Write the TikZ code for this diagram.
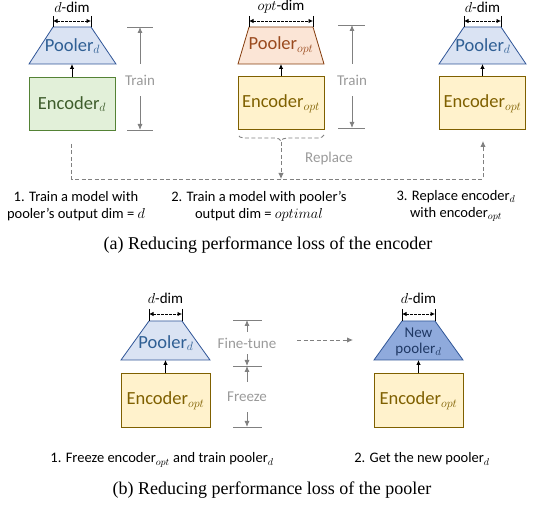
\documentclass[tikz,border=0pt]{standalone}
\usepackage{fontspec}
\setmainfont{Carlito}
\newfontfamily\capfont{Liberation Serif}
\usetikzlibrary{arrows.meta,decorations.pathreplacing,calc}
\definecolor{bfill}{HTML}{DAE3F3}
\definecolor{bdraw}{HTML}{2F5597}
\definecolor{btext}{HTML}{2F5F94}
\definecolor{gfill}{HTML}{E2F0D9}
\definecolor{gdraw}{HTML}{548235}
\definecolor{gtext}{HTML}{3D5C2B}
\definecolor{ofill}{HTML}{FBE5D6}
\definecolor{odraw}{HTML}{843C0C}
\definecolor{otext}{HTML}{9A4A1E}
\definecolor{yfill}{HTML}{FFF2CC}
\definecolor{ydraw}{HTML}{7F6000}
\definecolor{ytext}{HTML}{7F6000}
\definecolor{nfill}{HTML}{8FAADC}
\definecolor{ntext}{HTML}{1F3864}
\definecolor{gline}{HTML}{808080}
\definecolor{gtxt}{HTML}{9A9A9A}
\begin{document}
\begin{tikzpicture}[x=1pt,y=-1pt,
  box/.style={line width=1pt,minimum width=86pt,minimum height=53pt,inner sep=0pt,font=\fontsize{18.5}{20}\selectfont},
  encg/.style={box,draw=gdraw,fill=gfill,text=gtext},
  ency/.style={box,draw=ydraw,fill=yfill,text=ytext},
  poolb/.style={draw=bdraw,fill=bfill,line width=0.8pt},
  poolo/.style={draw=odraw,fill=ofill,line width=0.8pt},
  pooln/.style={draw=bdraw,fill=nfill,line width=0.8pt},
  ptxt/.style={font=\fontsize{18.5}{20}\selectfont,inner sep=0pt},
  uparr/.style={-{Latex[length=5pt,width=4.5pt]},line width=0.8pt,black},
  dimtick/.style={line width=0.7pt,black},
  dimarr/.style={{Latex[length=4.5pt,width=4.5pt]}-{Latex[length=4.5pt,width=4.5pt]},dash pattern=on 2.5pt off 1.5pt,line width=0.8pt,black},
  dimlbl/.style={font=\fontsize{15}{16}\selectfont,inner sep=0pt},
  gtick/.style={gline,line width=0.8pt},
  garr/.style={gline,line width=0.8pt,-{Latex[length=6pt,width=5pt]}},
  glbl/.style={text=gtxt,font=\fontsize{15}{16}\selectfont,inner sep=0pt},
  gdash/.style={gline,line width=0.9pt,dash pattern=on 4pt off 2.5pt},
  desc/.style={font=\fontsize{14.5}{17}\selectfont,align=center,inner sep=0pt},
  capstyle/.style={font=\capfont\fontsize{18}{20}\selectfont,inner sep=0pt}
]
\useasboundingbox (0,0) rectangle (547,510);

% ---------- Panel a1 ----------
\node[encg] (e1) at (72,104) {Encoder$_d$};
\draw[poolb] (53,27) -- (91,27) -- (116,64) -- (29,64) -- cycle;
\coordinate (p1b) at (72,64);
\node[ptxt,text=btext] (p1) at (72.5,46) {Pooler$_d$};
\draw[uparr] (e1.north) -- (p1b);
\coordinate (d1l) at (53,21); \coordinate (d1r) at (91,21);
\draw[dimtick] (53,16) -- (53,27) (91,16) -- (91,27);
\draw[dimarr] (d1l) -- (d1r);
\node[dimlbl] (l1) at (72,7) {$d$-dim};
% Train scale 1
\coordinate (t1a) at (140,27); \coordinate (t1b) at (140,130);
\draw[gtick] (127,27) -- (153,27) (127,130) -- (153,130);
\node[glbl] (tr1) at (140,80) {Train};
\draw[garr] ($(tr1.north)+(0,-11)$) -- (t1a);
\draw[garr] ($(tr1.south)+(0,11)$) -- (t1b);

% ---------- Panel a2 ----------
\node[ency] (e2) at (281,103.5) {Encoder$_{opt}$};
\draw[poolo] (249,27) -- (313,27) -- (324,64) -- (238,64) -- cycle;
\coordinate (p2b) at (281,64);
\node[ptxt,text=otext] (p2) at (281,46) {Pooler$_{opt}$};
\draw[uparr] (e2.north) -- (p2b);
\coordinate (d2l) at (249,21); \coordinate (d2r) at (313,21);
\draw[dimtick] (249,16) -- (249,27) (313,16) -- (313,27);
\draw[dimarr] (d2l) -- (d2r);
\node[dimlbl] (l2) at (281,7) {$opt$-dim};
% Train scale 2
\coordinate (t2a) at (352,25); \coordinate (t2b) at (352,128);
\draw[gtick] (338,25) -- (365,25) (338,128) -- (365,128);
\node[glbl] (tr2) at (352,80) {Train};
\draw[garr] ($(tr2.north)+(0,-11)$) -- (t2a);
\draw[garr] ($(tr2.south)+(0,11)$) -- (t2b);
% brace + replace
\draw[gdash,decorate,decoration={brace,amplitude=6pt}] (324,135) -- (238,135);
\coordinate (br) at (281,142);
\coordinate (hm) at (281,179);
\draw[gdash,-{Latex[length=6pt,width=5.5pt]}] (br) -- (hm);
\node[glbl] (rep) at (329,159) {Replace};

% ---------- Panel a3 ----------
\node[ency] (e3) at (482.5,103.5) {Encoder$_{opt}$};
\draw[poolb] (464,27) -- (501,27) -- (526,64) -- (439,64) -- cycle;
\coordinate (p3b) at (482.5,64);
\node[ptxt,text=btext] (p3) at (483,46) {Pooler$_d$};
\draw[uparr] (e3.north) -- (p3b);
\coordinate (d3l) at (464,21); \coordinate (d3r) at (501,21);
\draw[dimtick] (464,16) -- (464,27) (501,16) -- (501,27);
\draw[dimarr] (d3l) -- (d3r);
\node[dimlbl] (l3) at (482.5,7) {$d$-dim};

% dashed connector a1 -> a3
\coordinate (c1) at (71,144);
\coordinate (c3) at (483,141);
\draw[gdash,-{Latex[length=6pt,width=5.5pt]}] (c1) -- (71,179) -- (483,179) -- (c3);

% descriptions
\node[desc] (n1) at (76,206) {1. Train a model with\\pooler’s output dim = $d$};
\node[desc] (n2) at (259,206) {2. Train a model with pooler’s\\output dim = $optimal$};
\node[desc] (n3) at (456,206) {3. Replace encoder$_d$\\with encoder$_{opt}$};
\node[capstyle] (ca) at (268,245) {(a) Reducing performance loss of the encoder};

% ---------- Panel b1 ----------
\node[ency,minimum width=89pt,minimum height=54pt] (e4) at (165.5,401) {Encoder$_{opt}$};
\draw[poolb] (149,321) -- (182,321) -- (210,360) -- (121,360) -- cycle;
\coordinate (p4b) at (165.5,360);
\node[ptxt,text=btext] (p4) at (166,343) {Pooler$_d$};
\draw[uparr] (e4.north) -- (p4b);
\coordinate (d4l) at (149,314); \coordinate (d4r) at (182,314);
\draw[dimtick] (149,309) -- (149,321) (182,309) -- (182,321);
\draw[dimarr] (d4l) -- (d4r);
\node[dimlbl] (l4) at (165.5,298) {$d$-dim};
% Fine-tune / Freeze scale
\coordinate (f1) at (247,320); \coordinate (f2) at (247,366); \coordinate (f3) at (247,427);
\draw[gtick] (233,320) -- (262,320) (233,366) -- (262,366) (233,427) -- (262,427);
\node[glbl] (ft) at (247,343) {Fine-tune};
\node[glbl] (fz) at (247,397) {Freeze};
\draw[garr] ($(ft.north)+(0,-6)$) -- (f1);
\draw[garr] ($(ft.south)+(0,6)$) -- (f2);
\draw[garr] ($(fz.north)+(0,-10)$) -- (f2);
\draw[garr] ($(fz.south)+(0,10)$) -- (f3);

% arrow b1 -> b2
\coordinate (ba) at (297,340); \coordinate (bb) at (353,340);
\draw[gdash,-{Latex[length=6pt,width=5.5pt]}] (ba) -- (bb);

% ---------- Panel b2 ----------
\node[ency,minimum width=89pt,minimum height=54pt] (e5) at (418.5,401) {Encoder$_{opt}$};
\draw[pooln] (402,321) -- (435,321) -- (463,360) -- (374,360) -- cycle;
\coordinate (p5b) at (418.5,360);
\node[ptxt,text=ntext,align=center,font=\fontsize{15}{15.5}\selectfont] (p5) at (418.5,342) {New\\pooler$_d$};
\draw[uparr] (e5.north) -- (p5b);
\coordinate (d5l) at (402,314); \coordinate (d5r) at (435,314);
\draw[dimtick] (402,309) -- (402,321) (435,309) -- (435,321);
\draw[dimarr] (d5l) -- (d5r);
\node[dimlbl] (l5) at (418.5,298) {$d$-dim};

\node[desc] (m1) at (162,460) {1. Freeze encoder$_{opt}$ and train pooler$_d$};
\node[desc] (m2) at (422,459) {2. Get the new pooler$_d$};
\node[capstyle] (cb) at (272,490) {(b) Reducing performance loss of the pooler};
\end{tikzpicture}
\end{document}
